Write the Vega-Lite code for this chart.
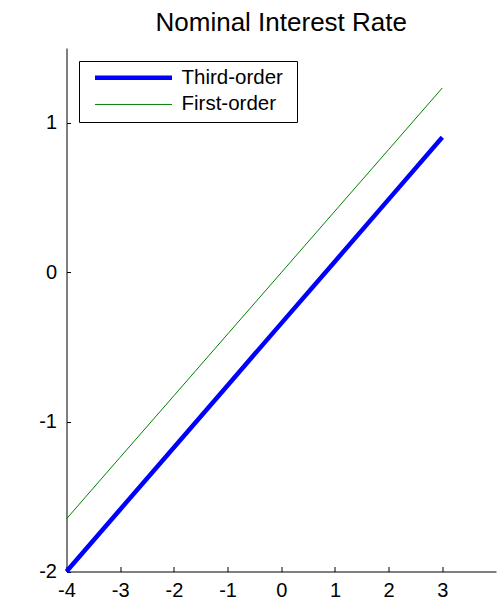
{
  "$schema": "https://vega.github.io/schema/vega-lite/v6.json",
  "width": 429.5,
  "height": 523.5,
  "autosize": {"type": "none"},
  "padding": {"left": 66.5, "top": 48, "right": 5, "bottom": 33.5},
  "background": "white",
  "title": {"text": "Nominal Interest Rate", "fontSize": 26, "font": "Liberation Sans", "fontWeight": "normal", "color": "black", "anchor": "middle", "offset": 12},
  "data": {"values": [
    {"x": -4, "y": -2.0, "series": "Third-order"},
    {"x": -3, "y": -1.585, "series": "Third-order"},
    {"x": -2, "y": -1.171, "series": "Third-order"},
    {"x": -1, "y": -0.756, "series": "Third-order"},
    {"x": 0, "y": -0.341, "series": "Third-order"},
    {"x": 1, "y": 0.073, "series": "Third-order"},
    {"x": 2, "y": 0.488, "series": "Third-order"},
    {"x": 3, "y": 0.903, "series": "Third-order"},
    {"x": -4, "y": -1.648, "series": "First-order"},
    {"x": -3, "y": -1.236, "series": "First-order"},
    {"x": -2, "y": -0.825, "series": "First-order"},
    {"x": -1, "y": -0.413, "series": "First-order"},
    {"x": 0, "y": -0.002, "series": "First-order"},
    {"x": 1, "y": 0.410, "series": "First-order"},
    {"x": 2, "y": 0.821, "series": "First-order"},
    {"x": 3, "y": 1.233, "series": "First-order"}
  ]},
  "mark": {"type": "line", "strokeCap": "butt"},
  "encoding": {
    "x": {"field": "x", "type": "quantitative", "scale": {"domain": [-4, 4], "nice": false, "zero": false},
      "axis": {"title": null, "values": [-4, -3, -2, -1, 0, 1, 2, 3], "labelExpr": "'' + datum.value", "grid": false, "tickSize": -5, "labelPadding": 14, "labelFontSize": 20, "labelFont": "Liberation Sans", "labelColor": "black", "domainColor": "black", "tickColor": "black", "labelFlush": false}},
    "y": {"field": "y", "type": "quantitative", "scale": {"domain": [-2, 1.5], "nice": false, "zero": false},
      "axis": {"title": null, "values": [-2, -1, 0, 1], "labelExpr": "'' + datum.value", "grid": false, "tickSize": -4, "labelPadding": 14, "labelFontSize": 20, "labelFont": "Liberation Sans", "labelColor": "black", "domainColor": "black", "tickColor": "black", "labelFlush": false}},
    "color": {"field": "series", "type": "nominal", "scale": {"domain": ["Third-order", "First-order"], "range": ["#0000ff", "#008000"]},
      "legend": {"title": "\u00a0", "titleOrient": "right", "titleFontSize": 1, "titlePadding": 7, "orient": "none", "legendX": 12.5, "legendY": 13, "symbolType": "M-4.8125,0H4.8125", "symbolSize": 256, "symbolOffset": 37.8, "strokeColor": "black", "fillColor": "white", "padding": 6.2, "labelFontSize": 20.5, "labelFont": "Liberation Sans", "labelColor": "black", "labelOffset": 37.5, "rowPadding": 6}},
    "strokeWidth": {"field": "series", "type": "nominal", "scale": {"domain": ["Third-order", "First-order"], "range": [4.5, 1]},
      "legend": {"title": "\u00a0", "titleOrient": "right", "titleFontSize": 1, "titlePadding": 7, "orient": "none", "legendX": 12.5, "legendY": 13, "symbolType": "M-4.8125,0H4.8125", "symbolSize": 256, "symbolOffset": 37.8, "strokeColor": "black", "fillColor": "white", "padding": 6.2, "labelFontSize": 20.5, "labelFont": "Liberation Sans", "labelColor": "black", "labelOffset": 37.5, "rowPadding": 6}}
  },
  "config": {"view": {"stroke": null}}
}
